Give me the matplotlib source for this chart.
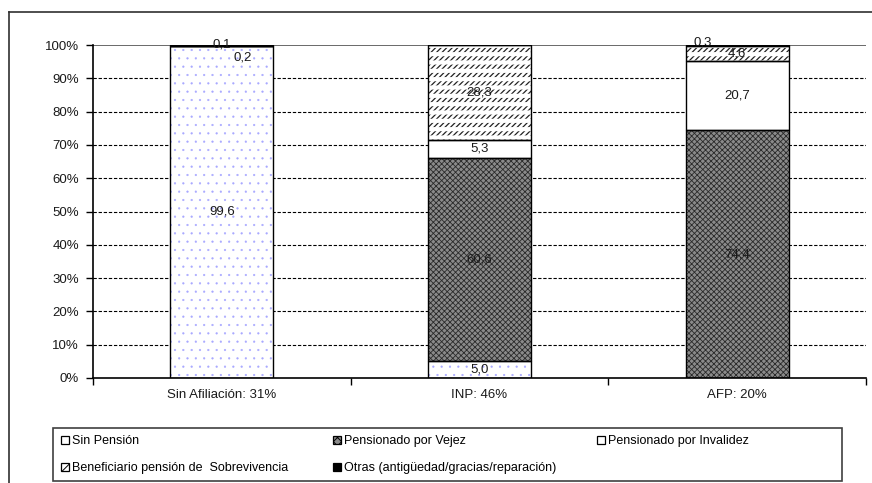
import matplotlib
matplotlib.use("Agg")
import matplotlib.pyplot as plt
import numpy as np
from matplotlib.patches import Rectangle
from matplotlib.lines import Line2D

plt.rcParams['font.family'] = ['Liberation Sans', 'DejaVu Sans']
plt.rcParams['hatch.linewidth'] = 0.7

# Categories and their stacked components (percent)
categories = ["Sin Afiliación: 31%", "INP: 46%", "AFP: 20%"]
series_names = [
    "Sin Pensión",
    "Pensionado por Vejez",
    "Pensionado por Invalidez",
    "Beneficiario pensión de  Sobrevivencia",
    "Otras (antigüedad/gracias/reparación)",
]
sin_pension = [99.6, 5.0, 0.0]
vejez = [0.0, 60.6, 74.4]
invalidez = [0.0, 5.3, 20.7]
sobrevivencia = [0.2, 28.3, 4.6]
otras = [0.1, 0.0, 0.3]
y_ticks = [0, 10, 20, 30, 40, 50, 60, 70, 80, 90, 100]

series = [sin_pension, vejez, invalidez, sobrevivencia, otras]
styles = [
    dict(face="white", hatch="..", hcolor="#a8a8ff", hlw=0.35, lhatch=None),
    dict(face="#8a8a8a", hatch="xxxxxx", hcolor="#2a2a2a", hlw=0.6, lhatch="xxxx"),
    dict(face="white", hatch=None, hcolor=None, hlw=0.7, lhatch=None),
    dict(face="white", hatch="//////", hcolor="#222222", hlw=0.9, lhatch="//"),
    dict(face="black", hatch=None, hcolor=None, hlw=0.7, lhatch=None),
]

W, H = 872, 483
fig = plt.figure(figsize=(W / 100, H / 100), dpi=100)
ax = fig.add_axes([93 / W, 1 - 378 / H, (866 - 93) / W, (378 - 45) / H])

x = np.arange(len(categories))
totals = np.sum(np.array(series), axis=0)
bottom = np.zeros(len(categories))
width = 0.4
handles = []
for si, (name, vals, st) in enumerate(zip(series_names, series, styles)):
    frac = np.array(vals) / totals * 100
    with plt.rc_context({'hatch.linewidth': st["hlw"]}):
        ax.bar(x, frac, width, bottom=bottom, color=st["face"],
               edgecolor=st["hcolor"] if st["hatch"] else st["face"],
               hatch=st["hatch"], linewidth=0, zorder=3)
    if si == 3:
        # break the diagonal strokes into rows of short dashes
        with plt.rc_context({'hatch.linewidth': 3.0}):
            ax.bar(x, frac, width, bottom=bottom, fill=False,
                   edgecolor="white", hatch="--", linewidth=0, zorder=3.5)
    ax.bar(x, frac, width, bottom=bottom, fill=False, edgecolor="black",
           linewidth=1.0, zorder=4)
    with plt.rc_context({'hatch.linewidth': 0.6}):
        h = Rectangle((0, 0), 1, 1, facecolor=st["face"], edgecolor="black",
                      hatch=st["lhatch"], linewidth=0.9)
    handles.append(h)
    bottom = bottom + frac

# Data labels at segment centres; a few small ones nudged aside
nudge = {(0, 3): (21, -12), (0, 4): (0, 1), (2, 4): (-34, 3)}
bottom = np.zeros(len(categories))
for si, vals in enumerate(series):
    frac = np.array(vals) / totals * 100
    for ci, v in enumerate(vals):
        if v > 0:
            dx, dy = nudge.get((ci, si), (0, 0))
            ax.annotate(f"{v:.1f}".replace(".", ","),
                        xy=(x[ci], bottom[ci] + frac[ci] / 2),
                        xytext=(dx, dy), textcoords="offset pixels",
                        ha="center", va="center", fontsize=9.5,
                        color="#1a1a1a", zorder=6)
    bottom = bottom + frac

ax.set_xlim(-0.5, 2.5)
ax.set_ylim(0, 100)
ax.set_yticks(y_ticks)
ax.set_yticklabels([f"{t}%" for t in y_ticks], fontsize=9.5, color="#1a1a1a")
ax.set_xticks([-0.5, 0.5, 1.5, 2.5])
ax.set_xticklabels([])
ax.set_xticks(x, minor=True)
ax.set_xticklabels(categories, minor=True, fontsize=9.5, color="#1a1a1a")
ax.tick_params(axis="x", which="major", direction="out", length=5, width=1)
ax.tick_params(axis="x", which="minor", length=0, pad=8)
ax.tick_params(axis="y", direction="out", length=5, width=1, pad=5)

for yv in y_ticks[1:-1]:
    ax.axhline(yv, color="black", linewidth=0.8, linestyle=(0, (3, 1.6)), zorder=1)
ax.axhline(100, color="#505050", linewidth=1.2, zorder=1)

for side in ["top", "right"]:
    ax.spines[side].set_visible(False)
for side in ["left", "bottom"]:
    ax.spines[side].set_linewidth(1.2)
    ax.spines[side].set_zorder(5)

# Legend: three columns, two rows, inside one box
legend_box = Rectangle((53 / W, 1 - 481 / H), (842 - 53) / W, (481 - 428) / H,
                       transform=fig.transFigure, fill=False,
                       edgecolor="#404040", linewidth=1.2)
fig.add_artist(legend_box)
columns = [(61, [0, 3]), (333, [1, 4]), (597, [2])]
for xpx, idx in columns:
    fig.legend([handles[i] for i in idx], [series_names[i] for i in idx],
               loc="upper left", bbox_to_anchor=(xpx / W, 1 - 435 / H),
               frameon=False, fontsize=9, handlelength=0.6, handleheight=0.6,
               handletextpad=0.25, labelspacing=1.2, borderpad=0,
               borderaxespad=0)

# Outer frame lines
fig.add_artist(Line2D([9 / W, 9 / W], [0, 1 - 12 / H], transform=fig.transFigure,
                      color="#303030", linewidth=1.2))
fig.add_artist(Line2D([9 / W, 1], [1 - 12 / H, 1 - 12 / H], transform=fig.transFigure,
                      color="#303030", linewidth=1.2))

fig.savefig("out.png", dpi=100)
